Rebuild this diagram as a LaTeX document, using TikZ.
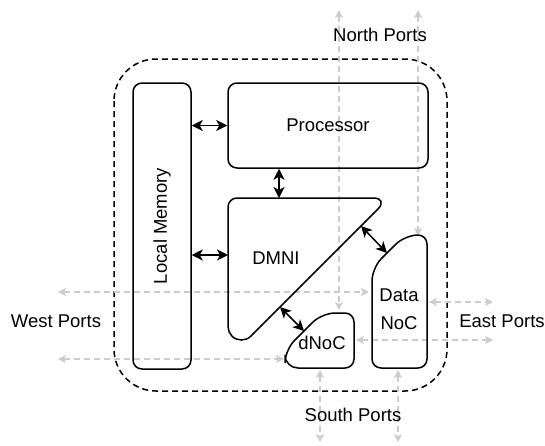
\documentclass[tikz,border=0pt]{standalone}
\usepackage{fontspec}
\setmainfont{Liberation Sans}
\usetikzlibrary{arrows.meta,positioning}
\definecolor{portgrey}{RGB}{204,204,204}

\begin{document}
\begin{tikzpicture}[x=1pt, y=-1pt,
      font=\fontsize{18.5}{22}\selectfont,
      blk/.style={draw, line width=1.5pt, rounded corners=9pt},
      link/.style={{Stealth[length=11pt,width=11pt,inset=3pt]}-{Stealth[length=11pt,width=11pt,inset=3pt]}, line width=1.5pt},
      port/.style={{Stealth[length=8pt,width=8pt,inset=2pt]}-{Stealth[length=8pt,width=8pt,inset=2pt]},
                   draw=portgrey, line width=1.2pt, dash pattern=on 6pt off 4pt}]
    \useasboundingbox (0,0) rectangle (545,445);

    % tile border
    \draw[line width=1.5pt, dash pattern=on 6pt off 4pt, rounded corners=42pt] (114,59) rectangle (447,391);

    % router ports
    \coordinate (w1) at (58,292);   \coordinate (data-w) at (369,292);
    \coordinate (w2) at (58,359);   \coordinate (dnoc-w) at (284,359);
    \coordinate (e1) at (493,302);  \coordinate (data-e) at (429,302);
    \coordinate (e2) at (493,340);  \coordinate (dnoc-e) at (356,340);
    \coordinate (n1) at (339,10);   \coordinate (dnoc-n) at (339,310);
    \coordinate (n2) at (418,10);   \coordinate (data-n) at (418,236);
    \coordinate (s1) at (320,442);  \coordinate (dnoc-s) at (320,370);
    \coordinate (s2) at (398,442);  \coordinate (data-s) at (398,370);
    \draw[port] (w1) -- (data-w);
    \draw[port] (w2) -- (dnoc-w);
    \draw[port] (data-e) -- (e1);
    \draw[port] (dnoc-e) -- (e2);
    \draw[port] (n1) -- (dnoc-n);
    \draw[port] (n2) -- (data-n);
    \draw[port] (dnoc-s) -- (s1);
    \draw[port] (data-s) -- (s2);

    % blocks
    \node[blk, minimum width=58, minimum height=286] (mem) at (162,226) {\rotatebox{90}{Local Memory}};
    \node[blk, minimum width=200, minimum height=85] (proc) at (328,125.5) {Processor};
    \draw[blk] (228,326.6) -- (228,198) [rounded corners=16pt] -- (389,198) [sharp corners] -- (250.9,336.1)
      arc[start angle=45, end angle=180, radius=13.4] -- cycle;
    \draw[blk] (372,320) [rounded corners=13pt] -- (372,268) -- (405,235) [rounded corners=9pt] -- (427,235) -- (427,368) -- (372,368) -- cycle;
    \draw[blk] (320,368) [rounded corners=13pt] -- (285,368) -- (285,350) -- (322,313) [rounded corners=9pt] -- (354,313) -- (354,368) -- cycle;
    \node (dmni) at (276,258) {DMNI};
    \node[align=center, font=\fontsize{18.5}{28}\selectfont] (data) at (399,309) {Data\\NoC};
    \node (dnoc) at (322,343) {dNoC};

    % internal links
    \coordinate (dmni-n) at (279,198);
    \coordinate (dmni-w) at (228,255);
    \coordinate (dmni-ne) at (361,226);  \coordinate (data-nw) at (387,253);
    \coordinate (dmni-sw) at (280,307);  \coordinate (dnoc-nw) at (304,331);
    \draw[link] (mem.east |- proc.west) -- (proc.west);
    \draw[link] (proc.south -| dmni-n) -- (dmni-n);
    \draw[link] (mem.east |- dmni-w) -- (dmni-w);
    \draw[link] (dmni-ne) -- (data-nw);
    \draw[link] (dmni-sw) -- (dnoc-nw);

    % port labels
    \node (north) at (380,35) {North Ports};
    \node (south) at (353,415) {South Ports};
    \node (west) at (56,321) {West Ports};
    \node (east) at (502,321) {East Ports};
  \end{tikzpicture}
\end{document}
